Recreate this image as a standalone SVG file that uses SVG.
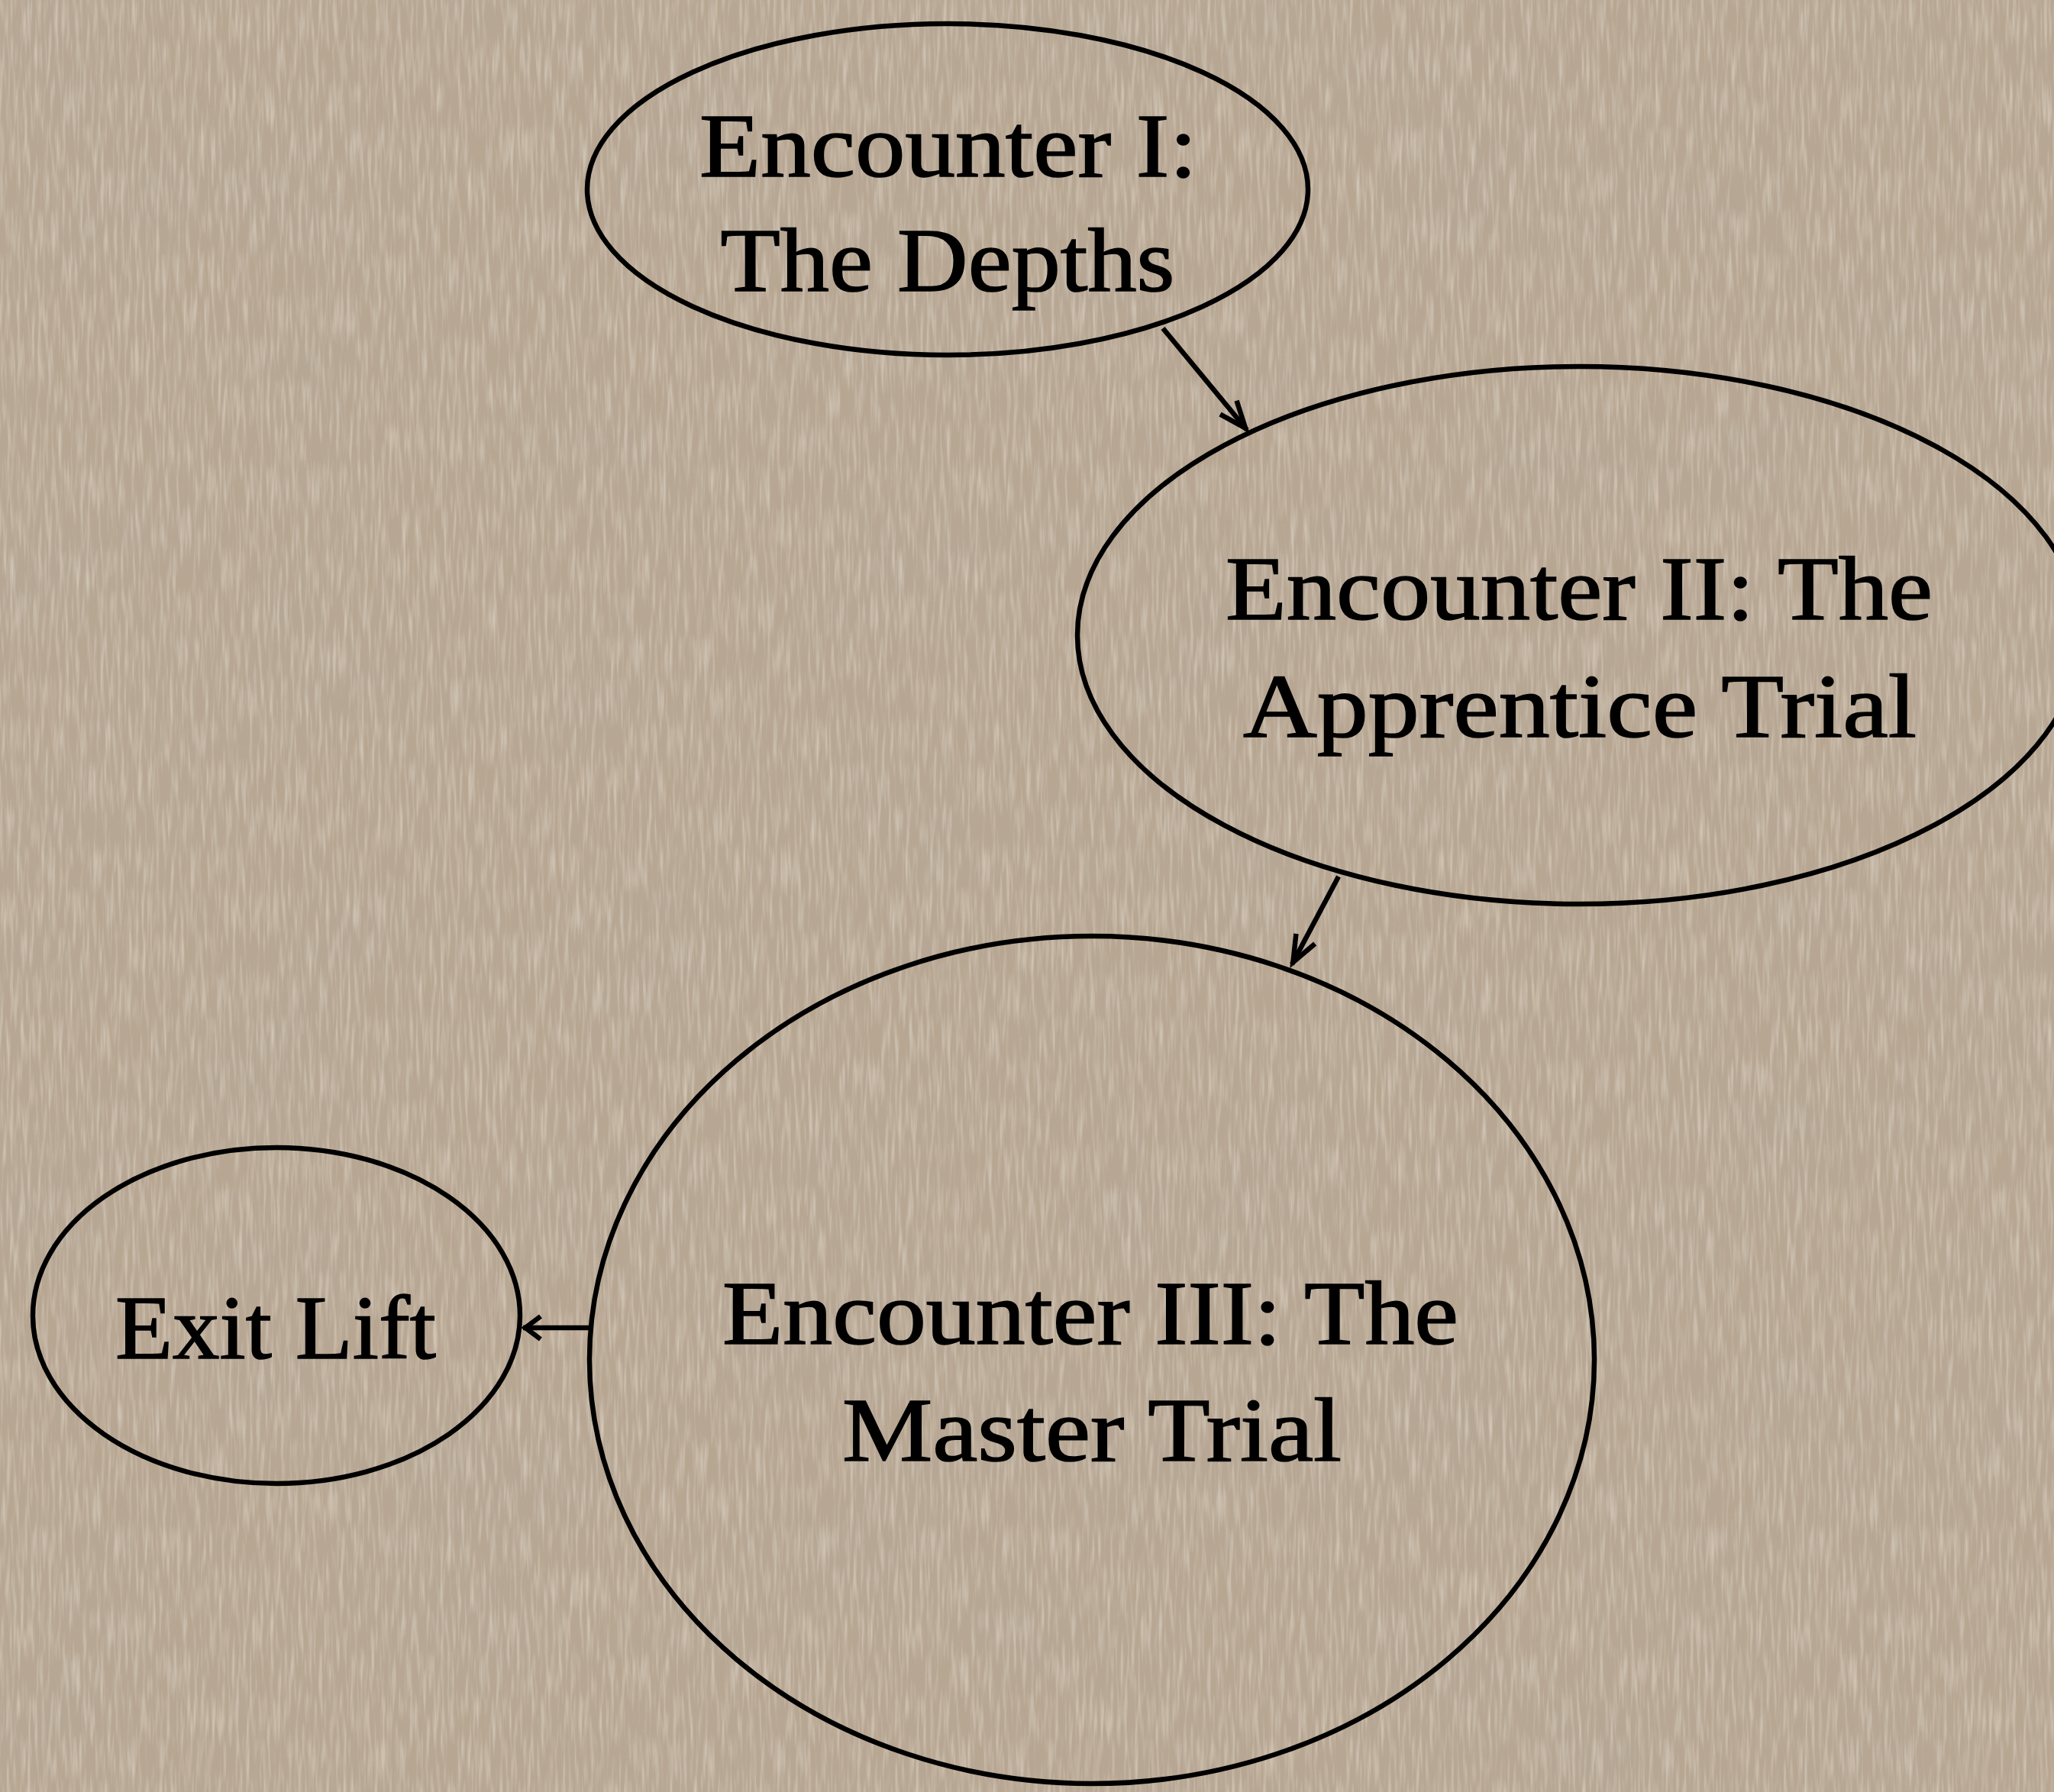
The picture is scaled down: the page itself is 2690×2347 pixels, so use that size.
<svg xmlns="http://www.w3.org/2000/svg" width="2690" height="2347" viewBox="0 0 2690 2347">
  <defs>
    <style>
      .node { fill: none; stroke: #000; stroke-width: 6.5; }
      .label { font-family: "Liberation Serif", "DejaVu Serif", serif; font-size: 118px; fill: #000; stroke: #000; stroke-width: 1.6; text-anchor: middle; }
      .edge { fill: none; stroke: #000; stroke-width: 6.5; }
      .head { fill: none; stroke: #000; stroke-width: 6.5; stroke-linejoin: miter; }
    </style>
    <!-- parchment streaks: fine vertical wavy fibres -->
    <filter id="fibres" x="0" y="0" width="100%" height="100%" filterUnits="userSpaceOnUse">
      <feTurbulence type="fractalNoise" baseFrequency="0.22 0.018" numOctaves="2" seed="7" result="n"/>
      <feColorMatrix in="n" type="matrix" values="0 0 0 0 0.93  0 0 0 0 0.88  0 0 0 0 0.80  1.8 0 0 0 -0.78"/>
    </filter>
    <!-- parchment blotches: broad darker patches -->
    <filter id="blotches" x="0" y="0" width="100%" height="100%" filterUnits="userSpaceOnUse">
      <feTurbulence type="fractalNoise" baseFrequency="0.004 0.006" numOctaves="3" seed="11" result="m"/>
      <feColorMatrix in="m" type="matrix" values="0 0 0 0 0.45  0 0 0 0 0.40  0 0 0 0 0.33  1.2 0 0 0 -0.45"/>
    </filter>
    <marker id="vee" markerUnits="userSpaceOnUse" markerWidth="60" markerHeight="40" refX="0" refY="0" orient="auto" overflow="visible">
      <path class="head" d="M-38,-14 L-3,0 L-38,14"/>
    </marker>
    <marker id="vee-short" markerUnits="userSpaceOnUse" markerWidth="40" markerHeight="40" refX="0" refY="0" orient="auto" overflow="visible">
      <path class="head" d="M-23,-15 L-3,0 L-23,15"/>
    </marker>
  </defs>

  <!-- background -->
  <rect x="0" y="0" width="2690" height="2347" fill="#b7a692"/>
  <rect x="0" y="0" width="2690" height="2347" filter="url(#blotches)" opacity="0.5"/>
  <rect x="0" y="0" width="2690" height="2347" filter="url(#fibres)" opacity="0.5"/>

  <!-- connectors -->
  <g id="edges">
    <line class="edge" x1="1523" y1="430" x2="1633" y2="563" marker-end="url(#vee)"/>
    <line class="edge" x1="1753" y1="1148" x2="1692" y2="1263" marker-end="url(#vee)"/>
    <line class="edge" x1="773" y1="1739" x2="685" y2="1739" marker-end="url(#vee-short)"/>
  </g>

  <g id="encounter-1">
    <ellipse class="node" cx="1241" cy="248" rx="472" ry="217"/>
    <text class="label" x="1242" y="231" textLength="652" lengthAdjust="spacingAndGlyphs">Encounter I:</text>
    <text class="label" x="1241" y="381" textLength="595" lengthAdjust="spacingAndGlyphs">The Depths</text>
  </g>

  <g id="encounter-2">
    <ellipse class="node" cx="2068" cy="832" rx="657" ry="352"/>
    <text class="label" x="2068" y="811" textLength="926" lengthAdjust="spacingAndGlyphs">Encounter II: The</text>
    <text class="label" x="2069" y="965" textLength="882" lengthAdjust="spacingAndGlyphs">Apprentice Trial</text>
  </g>

  <g id="encounter-3">
    <ellipse class="node" cx="1430" cy="1781" rx="658" ry="555"/>
    <text class="label" x="1428" y="1760" textLength="964" lengthAdjust="spacingAndGlyphs">Encounter III: The</text>
    <text class="label" x="1430" y="1913" textLength="654" lengthAdjust="spacingAndGlyphs">Master Trial</text>
  </g>

  <g id="exit-lift">
    <ellipse class="node" cx="362" cy="1723" rx="319" ry="220"/>
    <text class="label" x="361" y="1779" textLength="420" lengthAdjust="spacingAndGlyphs">Exit Lift</text>
  </g>
</svg>
